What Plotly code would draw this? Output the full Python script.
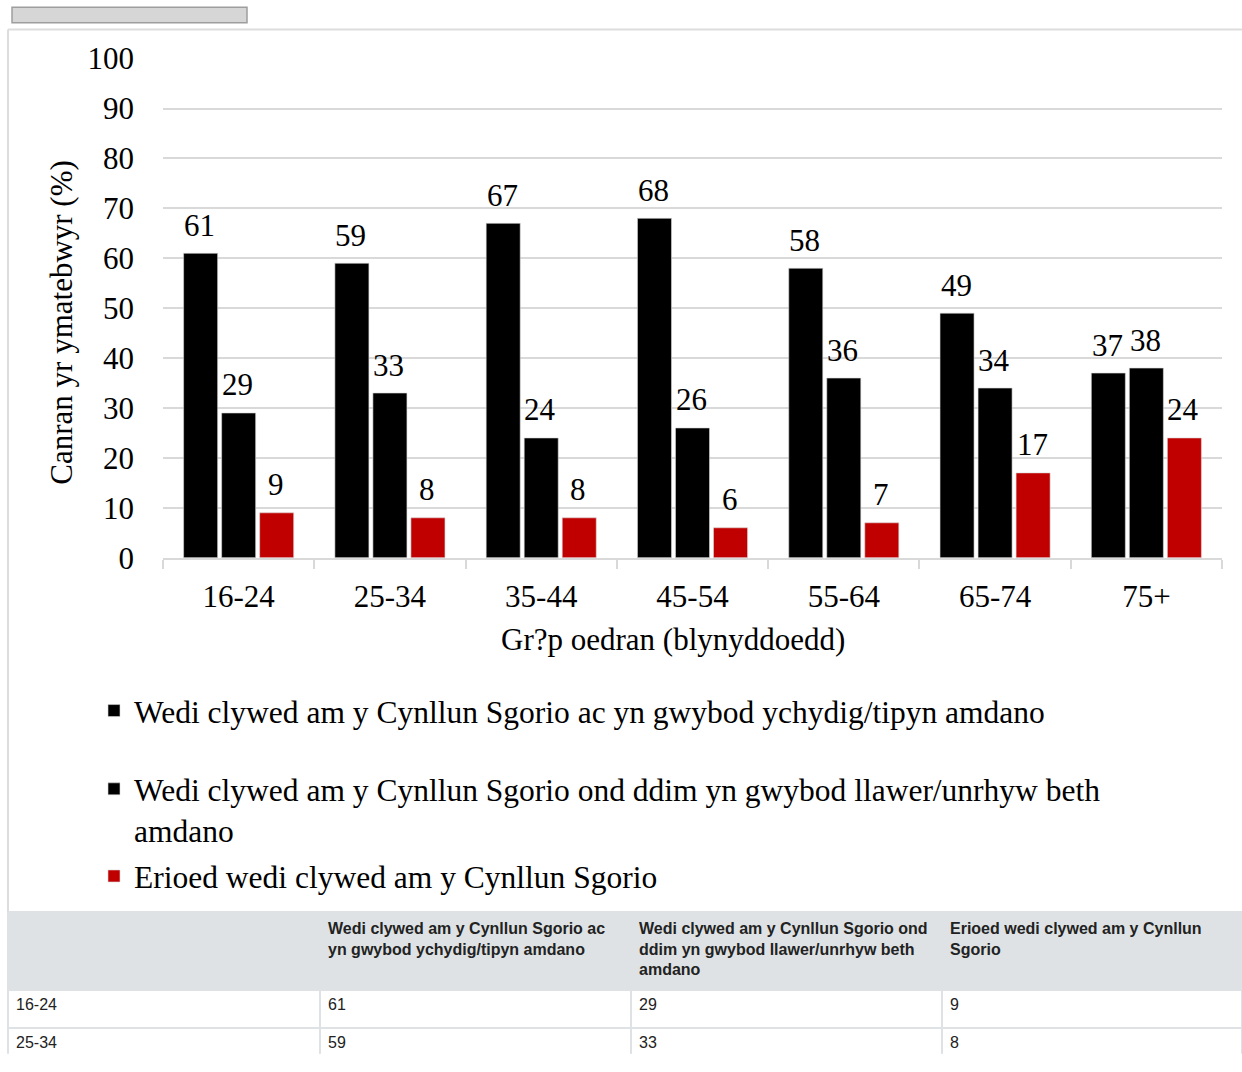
import plotly.graph_objects as go

# ---------------- data ----------------
categories = ["16-24", "25-34", "35-44", "45-54", "55-64", "65-74", "75+"]
series_names = [
    "Wedi clywed am y Cynllun Sgorio ac yn gwybod ychydig/tipyn amdano",
    "Wedi clywed am y Cynllun Sgorio ond ddim yn gwybod llawer/unrhyw beth amdano",
    "Erioed wedi clywed am y Cynllun Sgorio",
]
legend_labels = [
    "Wedi clywed am y Cynllun Sgorio ac yn gwybod ychydig/tipyn amdano",
    "Wedi clywed am y Cynllun Sgorio ond ddim yn gwybod llawer/unrhyw beth<br>amdano",
    "Erioed wedi clywed am y Cynllun Sgorio",
]
heard_know = [61, 59, 67, 68, 58, 49, 37]
heard_not_know = [29, 33, 24, 26, 36, 34, 38]
never_heard = [9, 8, 8, 6, 7, 17, 24]
y_ticks = [0, 10, 20, 30, 40, 50, 60, 70, 80, 90, 100]
x_title = "Gr?p oedran (blynyddoedd)"
y_title = "Canran yr ymatebwyr (%)"
table_header = [
    "",
    "Wedi clywed am y Cynllun Sgorio ac<br>yn gwybod ychydig/tipyn amdano",
    "Wedi clywed am y Cynllun Sgorio ond<br>ddim yn gwybod llawer/unrhyw beth<br>amdano",
    "Erioed wedi clywed am y Cynllun<br>Sgorio",
]

series_values = [heard_know, heard_not_know, never_heard]
colors = ["#000000", "#000000", "#C00000"]

# ---------------- layout helpers ----------------
W, H = 1242, 1072


def px(x):
    return x / W


def py(y):
    return 1 - y / H


SERIF = "Liberation Serif, Times New Roman, serif"
SANS = "Liberation Sans, Arial, sans-serif"
FS = 31

fig = go.Figure()

legend_ids = ["legend", "legend2", "legend3"]
for name, lab, vals, col, lid in zip(series_names, legend_labels, series_values, colors, legend_ids):
    fig.add_trace(go.Bar(
        x=categories, y=vals, name=lab,
        marker=dict(color=col, line=dict(color="#d9d9d9", width=0.6)),
        legend=lid, hoverinfo="x+y",
    ))

# data labels
label_xshift = [-39, -1, 37]
annotations = []
for j, vals in enumerate(series_values):
    for c, v in zip(categories, vals):
        annotations.append(dict(
            x=c, y=v, xref="x", yref="y", text=str(v), showarrow=False,
            xshift=label_xshift[j], yshift=28, yanchor="middle",
            font=dict(family=SERIF, size=FS, color="#000000"),
        ))

# axis titles as annotations (positioned like the original)
annotations.append(dict(
    x=px(673), y=py(643), xref="paper", yref="paper", text=x_title, showarrow=False,
    xanchor="center", yanchor="middle", font=dict(family=SERIF, size=FS, color="#000000"),
))
annotations.append(dict(
    x=px(62), y=py(316), xref="paper", yref="paper", text=y_title, showarrow=False,
    textangle=-90, xanchor="center", yanchor="middle",
    font=dict(family=SERIF, size=FS, color="#000000"),
))

# table
fig.add_trace(go.Table(
    domain=dict(x=[px(8), 1], y=[0, py(925)]),
    columnwidth=[312, 311, 311, 300],
    header=dict(
        values=["<b>%s</b>" % h for h in table_header],
        fill_color="#DFE2E5", line=dict(color="#DFE2E5", width=2),
        align="left", height=78,
        font=dict(family=SANS, size=16, color="#222222"),
    ),
    cells=dict(
        values=[categories, heard_know, heard_not_know, never_heard],
        fill_color="#FFFFFF", line=dict(color="#DFE2E5", width=2),
        align="left", height=38,
        font=dict(family=SANS, size=16, color="#222222"),
    ),
))

shapes = [
    # button at the top
    dict(type="rect", xref="paper", yref="paper", x0=px(12), x1=px(247), y0=py(6), y1=py(-10),
         fillcolor="#D6D6D6", line=dict(color="#9E9E9E", width=1.5), layer="above"),
    # chart frame
    dict(type="line", xref="paper", yref="paper", x0=px(8), x1=1, y0=py(13), y1=py(13),
         line=dict(color="#DDDDDD", width=2)),
    dict(type="line", xref="paper", yref="paper", x0=px(8), x1=px(8), y0=py(13), y1=py(925),
         line=dict(color="#DDDDDD", width=2)),
]

fig.update_layout(
    width=W, height=H, autosize=False,
    margin=dict(l=0, r=0, t=0, b=0),
    paper_bgcolor="#FFFFFF", plot_bgcolor="#FFFFFF",
    barmode="group", bargap=0.246, bargroupgap=0.105,
    font=dict(family=SERIF, size=FS, color="#000000"),
    showlegend=True,
    xaxis=dict(
        domain=[px(163), px(1222)], type="category",
        showline=True, linecolor="#D9D9D9", linewidth=2,
        ticks="outside", ticklen=9, tickcolor="#D9D9D9", tickwidth=2,
        tickson="boundaries", showgrid=False,
        tickfont=dict(family=SERIF, size=FS, color="#000000"),
        ticklabelstandoff=10,
    ),
    yaxis=dict(
        domain=[py(559), py(43)], range=[0, 100],
        tickvals=y_ticks, showgrid=True, gridcolor="#D9D9D9", gridwidth=1.5,
        zeroline=False, showline=False, ticks="",
        tickfont=dict(family=SERIF, size=FS, color="#000000"),
        ticklabelstandoff=28,
    ),
    legend=dict(x=px(94), y=py(717), xanchor="left", yanchor="middle",
                font=dict(family=SERIF, size=31.5, color="#000000"), bgcolor="rgba(0,0,0,0)"),
    legend2=dict(x=px(94), y=py(770), xanchor="left", yanchor="top", valign="top",
                 font=dict(family=SERIF, size=31.5, color="#000000"), bgcolor="rgba(0,0,0,0)"),
    legend3=dict(x=px(94), y=py(888), xanchor="left", yanchor="middle",
                 font=dict(family=SERIF, size=31.5, color="#000000"), bgcolor="rgba(0,0,0,0)"),
    annotations=annotations,
    shapes=shapes,
)

# place the figure at the very top-left of the page, with no page margin or overflow
page_fix = (
    "document.body.style.margin='0px';"
    "var gd=document.getElementById('{plot_id}');"
    "gd.style.position='fixed';gd.style.top='0px';gd.style.left='0px';"
    "document.documentElement.style.overflow='hidden';"
    "document.body.style.overflow='hidden';"
)

fig.write_html(
    "out.html",
    config={"displayModeBar": False, "responsive": False},
    post_script=page_fix,
)
